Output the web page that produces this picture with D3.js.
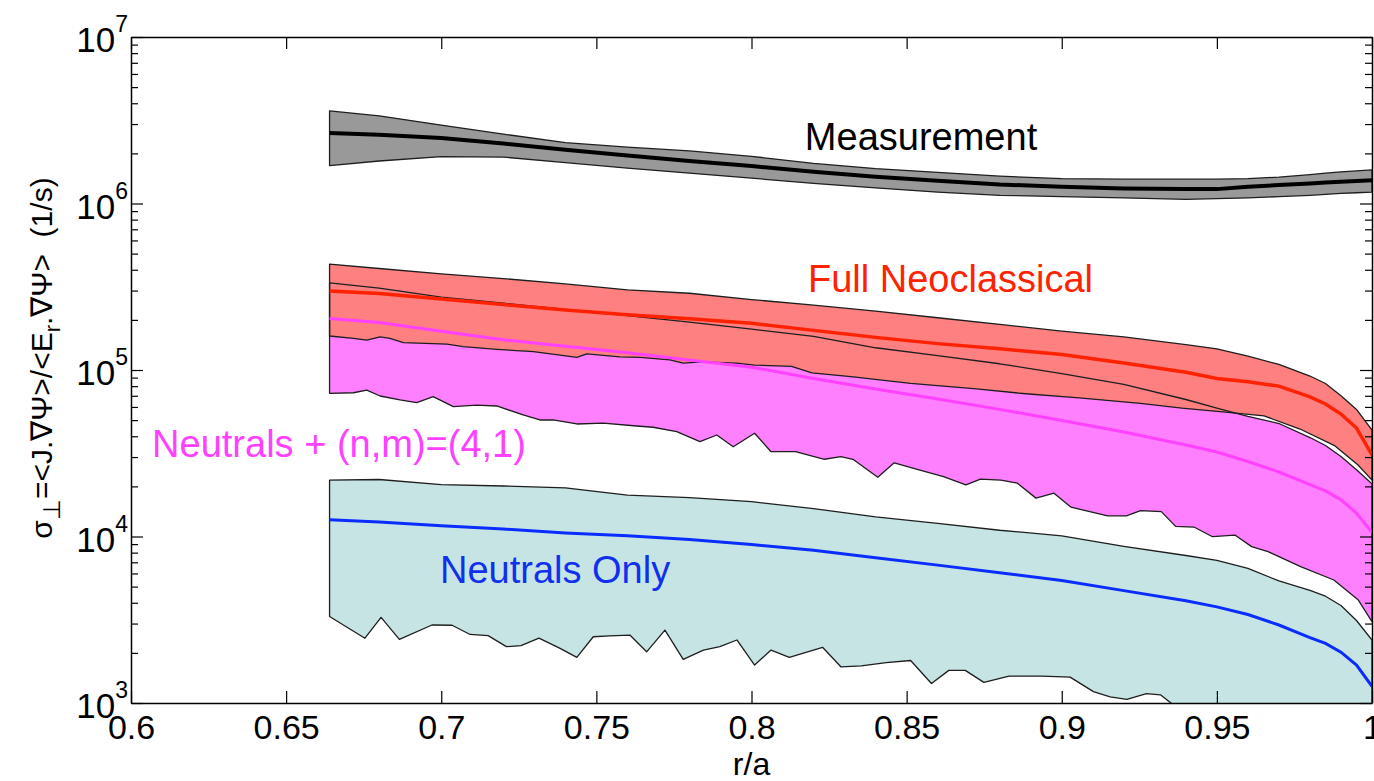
<!DOCTYPE html>
<html>
<head>
<meta charset="utf-8">
<script src="https://cdn.jsdelivr.net/npm/d3@7"></script>
<style>
  body { margin: 0; background: #fff; }
  svg { display: block; font-family: "Liberation Sans", Arial, sans-serif; }
</style>
</head>
<body>
<div id="chart"></div>
<script>
// ---- data ----
// common radial grid for the smooth curves
const rGrid = [0.664, 0.68, 0.70, 0.72, 0.74, 0.76, 0.78, 0.80, 0.82, 0.84, 0.86, 0.88,
               0.90, 0.92, 0.94, 0.95, 0.96, 0.97, 0.98, 0.985, 0.99, 0.995, 1.0];

// measurement
const measHi  = [3.60e6, 3.36e6, 2.96e6, 2.61e6, 2.32e6, 2.18e6, 2.07e6, 1.92e6, 1.74e6, 1.62e6, 1.54e6, 1.46e6,
                 1.41e6, 1.40e6, 1.40e6, 1.40e6, 1.41e6, 1.44e6, 1.49e6, 1.52e6, 1.55e6, 1.57e6, 1.59e6];
const measMid = [2.65e6, 2.59e6, 2.47e6, 2.29e6, 2.10e6, 1.94e6, 1.80e6, 1.68e6, 1.55e6, 1.45e6, 1.37e6, 1.30e6,
                 1.26e6, 1.23e6, 1.22e6, 1.22e6, 1.26e6, 1.29e6, 1.32e6, 1.335e6, 1.35e6, 1.365e6, 1.38e6];
const measLo  = [1.69e6, 1.80e6, 1.91e6, 1.90e6, 1.76e6, 1.63e6, 1.52e6, 1.42e6, 1.32e6, 1.24e6, 1.17e6, 1.12e6,
                 1.10e6, 1.08e6, 1.06e6, 1.07e6, 1.08e6, 1.10e6, 1.12e6, 1.135e6, 1.15e6, 1.16e6, 1.17e6];

// full neoclassical
const neoHi  = [4.33e5, 4.07e5, 3.78e5, 3.54e5, 3.29e5, 3.03e5, 2.89e5, 2.65e5, 2.45e5, 2.26e5, 2.06e5, 1.88e5,
                1.71e5, 1.58e5, 1.42e5, 1.34e5, 1.21e5, 1.08e5, 9.2e4, 8.3e4, 7.0e4, 5.8e4, 4.36e4];
const neoMid = [2.98e5, 2.88e5, 2.67e5, 2.47e5, 2.29e5, 2.15e5, 2.03e5, 1.91e5, 1.73e5, 1.57e5, 1.44e5, 1.34e5,
                1.24e5, 1.10e5, 9.7e4, 8.9e4, 8.5e4, 8.0e4, 6.9e4, 6.25e4, 5.44e4, 4.48e4, 3.09e4];
const rNeoLo = [0.664, 0.6717, 0.676, 0.6803, 0.6835, 0.6878, 0.7018, 0.7071, 0.7179, 0.7297,
                0.7383, 0.7437, 0.7469, 0.7576, 0.7641, 0.7737, 0.778, 0.7845, 0.7952, 0.801,
                0.8129, 0.8195, 0.8328, 0.8513, 0.8725, 0.8884, 0.9056, 0.9254, 0.9387, 0.9519,
                0.9652, 0.9768, 0.9881, 0.9955, 1.0];
const neoLo  = [1.60e5, 1.55e5, 1.51e5, 1.58e5, 1.55e5, 1.46e5, 1.43e5, 1.38e5, 1.33e5, 1.29e5,
                1.23e5, 1.19e5, 1.25e5, 1.20e5, 1.19e5, 1.15e5, 1.10e5, 1.12e5, 1.10e5, 1.07e5,
                1.05e5, 9.6e4, 9.1e4, 8.3e4, 7.7e4, 7.2e4, 6.8e4, 6.3e4, 5.9e4, 5.6e4,
                5.3e4, 4.42e4, 3.50e4, 2.69e4, 2.18e4];

// neutrals + (n,m)=(4,1)
const nmHi  = [3.34e5, 3.10e5, 2.74e5, 2.52e5, 2.31e5, 2.12e5, 1.94e5, 1.76e5, 1.59e5, 1.36e5, 1.22e5, 1.09e5,
               9.5e4, 8.2e4, 6.65e4, 5.9e4, 5.27e4, 4.77e4, 3.93e4, 3.52e4, 3.02e4, 2.52e4, 2.07e4];
const nmMid = [2.04e5, 1.93e5, 1.71e5, 1.52e5, 1.39e5, 1.27e5, 1.15e5, 1.04e5, 8.9e4, 7.7e4, 6.7e4, 5.8e4,
               4.97e4, 4.24e4, 3.54e4, 3.22e4, 2.82e4, 2.44e4, 2.05e4, 1.88e4, 1.66e4, 1.38e4, 1.06e4];
const rNmLo = [0.664, 0.6717, 0.6760, 0.6803, 0.6867, 0.6921, 0.6974, 0.7039, 0.7114, 0.7179,
               0.7264, 0.7318, 0.7361, 0.7437, 0.7522, 0.7630, 0.7683, 0.7759, 0.7834, 0.7888,
               0.7941, 0.8010, 0.8063, 0.8142, 0.8235, 0.8288, 0.8327, 0.8407, 0.8460, 0.8540,
               0.8619, 0.8691, 0.8738, 0.8804, 0.8857, 0.8917, 0.8975, 0.9030, 0.9148, 0.9208,
               0.9254, 0.9321, 0.9367, 0.9426, 0.9486, 0.9558, 0.9612, 0.9665, 0.9770, 0.9877,
               0.9956, 1.0];
const nmLo  = [7.24e4, 7.30e4, 7.58e4, 6.98e4, 6.61e4, 6.36e4, 6.92e4, 6.02e4, 6.16e4, 6.08e4,
               5.37e4, 5.01e4, 5.01e4, 4.74e4, 4.79e4, 4.61e4, 4.53e4, 4.26e4, 3.71e4, 4.07e4,
               3.46e4, 4.17e4, 3.23e4, 3.23e4, 2.91e4, 3.02e4, 2.91e4, 2.27e4, 2.77e4, 2.51e4,
               2.29e4, 2.04e4, 2.21e4, 2.18e4, 2.09e4, 1.70e4, 1.82e4, 1.50e4, 1.33e4, 1.33e4,
               1.43e4, 1.41e4, 1.15e4, 1.14e4, 9.97e3, 1.02e4, 8.69e3, 8.11e3, 6.59e3, 5.48e3,
               4.15e3, 3.08e3];

// neutrals only
const neuHi  = [2.18e4, 2.20e4, 2.05e4, 2.01e4, 1.96e4, 1.77e4, 1.71e4, 1.62e4, 1.47e4, 1.31e4, 1.20e4, 1.09e4,
                1.01e4, 8.73e3, 7.69e3, 7.18e3, 6.43e3, 5.41e3, 4.75e3, 4.38e3, 3.85e3, 3.13e3, 2.39e3];
const neuMid = [1.26e4, 1.22e4, 1.16e4, 1.11e4, 1.05e4, 1.01e4, 9.58e3, 8.94e3, 8.27e3, 7.46e3, 6.73e3, 6.06e3,
                5.44e3, 4.73e3, 4.11e3, 3.78e3, 3.40e3, 2.94e3, 2.47e3, 2.28e3, 2.02e3, 1.69e3, 1.26e3];
const rNeuLo = [0.664, 0.6754, 0.6806, 0.6865, 0.6970, 0.7035, 0.7093, 0.7151, 0.7210, 0.7257,
                0.7315, 0.7383, 0.7437, 0.7490, 0.7543, 0.7608, 0.7662, 0.7721, 0.7780, 0.7845,
                0.7898, 0.7953, 0.8010, 0.8063, 0.8122, 0.8229, 0.8288, 0.8354, 0.8434, 0.8513,
                0.8580, 0.8636, 0.8689, 0.8749, 0.8830, 0.8936, 0.9027, 0.9102, 0.9156, 0.9210,
                0.9273, 0.9318, 0.9355, 0.95, 0.98, 1.0];
const neuLo  = [3.31e3, 2.45e3, 3.27e3, 2.41e3, 2.94e3, 2.93e3, 2.58e3, 2.54e3, 2.18e3, 2.21e3,
                2.45e3, 2.13e3, 1.88e3, 2.50e3, 2.53e3, 2.56e3, 2.03e3, 2.74e3, 1.83e3, 2.08e3,
                2.18e3, 2.39e3, 1.69e3, 2.08e3, 1.88e3, 2.16e3, 1.65e3, 1.67e3, 1.75e3, 1.80e3,
                1.31e3, 1.57e3, 1.57e3, 1.33e3, 1.45e3, 1.45e3, 1.43e3, 1.17e3, 1.09e3, 1.05e3,
                1.14e3, 1.12e3, 9.9e2, 7.0e2, 4.5e2, 2.5e2];

// axes
const xTicks = [0.6, 0.65, 0.7, 0.75, 0.8, 0.85, 0.9, 0.95, 1];
const yMajor = [1e3, 1e4, 1e5, 1e6, 1e7];

// text annotations (r, value at baseline)
const labels = [
    {text: "Measurement", r: 0.8172, v: 2.09e6, color: "#000000"},
    {text: "Full Neoclassical", r: 0.8182, v: 2.94e5, color: "#ff2200"},
    {text: "Neutrals + (n,m)=(4,1)", r: 0.6068, v: 3.0e4, color: "#ff40ff"},
    {text: "Neutrals Only", r: 0.6996, v: 5.26e3, color: "#1030ee"}
];

// ---- layout ----
const W = 1374, H = 781;
const margin = {top: 37, right: 2, bottom: 78, left: 131},
    width = W - margin.left - margin.right,
    height = H - margin.top - margin.bottom;

const svg = d3.select("#chart").append("svg")
    .attr("width", W)
    .attr("height", H);

const g = svg.append("g")
    .attr("transform", `translate(${margin.left},${margin.top})`);

const x = d3.scaleLinear().domain([0.6, 1]).range([0, width]);
const y = d3.scaleLog().domain([1e3, 1e7]).range([height, 0]);

g.append("clipPath").attr("id", "plot-clip")
    .append("rect").attr("width", width).attr("height", height);

const plot = g.append("g").attr("clip-path", "url(#plot-clip)");

const pairs = (rs, vs) => rs.map((r, i) => [r, vs[i]]);
const line = d3.line().x(d => x(d[0])).y(d => y(d[1]));

function bandPts(rUp, vUp, rLo, vLo) {
    return pairs(rUp, vUp).concat(pairs(rLo, vLo).reverse());
}

const bands = [
    {fill: "#999999", pts: bandPts(rGrid, measHi, rGrid, measLo)},
    {fill: "#c6e4e4", pts: bandPts(rGrid, neuHi, rNeuLo, neuLo)},
    {fill: "#ff80ff", pts: bandPts(rGrid, nmHi, rNmLo, nmLo)},
    {fill: "#ff8080", pts: bandPts(rGrid, neoHi, rNeoLo, neoLo)}
];

// fills
plot.selectAll(".band")
    .data(bands)
    .join("path")
    .attr("class", "band")
    .attr("d", d => line(d.pts) + "Z")
    .attr("fill", d => d.fill)
    .attr("stroke", "none");

// band outlines
plot.selectAll(".band-edge")
    .data(bands)
    .join("path")
    .attr("class", "band-edge")
    .attr("d", d => line(d.pts) + "Z")
    .attr("fill", "none")
    .attr("stroke", "#1e1e1e")
    .attr("stroke-width", 1.3)
    .attr("stroke-linejoin", "round");

// central curves
const centres = [
    {vals: measMid, color: "#000000", w: 4},
    {vals: neoMid, color: "#ff2200", w: 3.5},
    {vals: nmMid, color: "#ff40ff", w: 3},
    {vals: neuMid, color: "#0a2cff", w: 3}
];
plot.selectAll(".centre")
    .data(centres)
    .join("path")
    .attr("class", "centre")
    .attr("d", d => line(pairs(rGrid, d.vals)))
    .attr("fill", "none")
    .attr("stroke", d => d.color)
    .attr("stroke-width", d => d.w);

// ---- axes ----
const yMinor = [];
for (let e = 3; e < 7; e++) for (let k = 2; k <= 9; k++) yMinor.push(k * Math.pow(10, e));

function styleAxis(sel) {
    sel.select(".domain").attr("stroke", "#000").attr("stroke-width", 1.5);
    sel.selectAll(".tick line").attr("stroke", "#000").attr("stroke-width", 1.2);
}

g.append("g")
    .attr("transform", `translate(0,${height})`)
    .call(d3.axisBottom(x).tickValues(xTicks).tickSize(-12).tickSizeOuter(0)
        .tickPadding(12).tickFormat(d3.format("")))
    .call(styleAxis)
    .selectAll("text")
    .attr("fill", "#000")
    .style("font-size", "34px");

g.append("g")
    .call(d3.axisTop(x).tickValues(xTicks).tickSize(-12).tickSizeOuter(0).tickFormat(""))
    .call(styleAxis);

g.append("g")
    .call(d3.axisLeft(y).tickValues(yMajor).tickSize(-12).tickSizeOuter(0).tickFormat(""))
    .call(styleAxis);
g.append("g")
    .call(d3.axisLeft(y).tickValues(yMinor).tickSize(-7).tickSizeOuter(0).tickFormat(""))
    .call(styleAxis)
    .select(".domain").remove();

g.append("g")
    .attr("transform", `translate(${width},0)`)
    .call(d3.axisRight(y).tickValues(yMajor).tickSize(-12).tickSizeOuter(0).tickFormat(""))
    .call(styleAxis);
g.append("g")
    .attr("transform", `translate(${width},0)`)
    .call(d3.axisRight(y).tickValues(yMinor).tickSize(-7).tickSizeOuter(0).tickFormat(""))
    .call(styleAxis)
    .select(".domain").remove();

// y tick labels 10^n
const yLab = g.selectAll(".ylab")
    .data(yMajor)
    .join("text")
    .attr("class", "ylab")
    .attr("x", -3)
    .attr("y", d => y(d) + 15)
    .attr("text-anchor", "end")
    .style("font-size", "35px");
yLab.append("tspan").text("10");
yLab.append("tspan")
    .attr("dy", -20)
    .style("font-size", "23px")
    .text(d => Math.round(Math.log10(d)));

// axis titles
svg.append("text")
    .attr("x", margin.left + x(0.8))
    .attr("y", 775)
    .attr("text-anchor", "middle")
    .style("font-size", "32px")
    .text("r/a");

const yTitle = svg.append("text")
    .attr("transform", "translate(52,358) rotate(-90)")
    .attr("text-anchor", "middle")
    .style("font-size", "30px")
    .style("white-space", "pre");
yTitle.append("tspan").text("σ");
yTitle.append("tspan").attr("dy", 8).style("font-size", "24px").text("⊥");
yTitle.append("tspan").attr("dy", -8).text("=<J.∇Ψ>/<E");
yTitle.append("tspan").attr("dy", 8).style("font-size", "22px").text("r");
yTitle.append("tspan").attr("dy", -8).text(".∇Ψ>  (1/s)");

// curve labels
g.selectAll(".curve-label")
    .data(labels)
    .join("text")
    .attr("class", "curve-label")
    .attr("x", d => x(d.r))
    .attr("y", d => y(d.v))
    .attr("fill", d => d.color)
    .style("font-size", "38px")
    .text(d => d.text);
</script>
</body>
</html>
